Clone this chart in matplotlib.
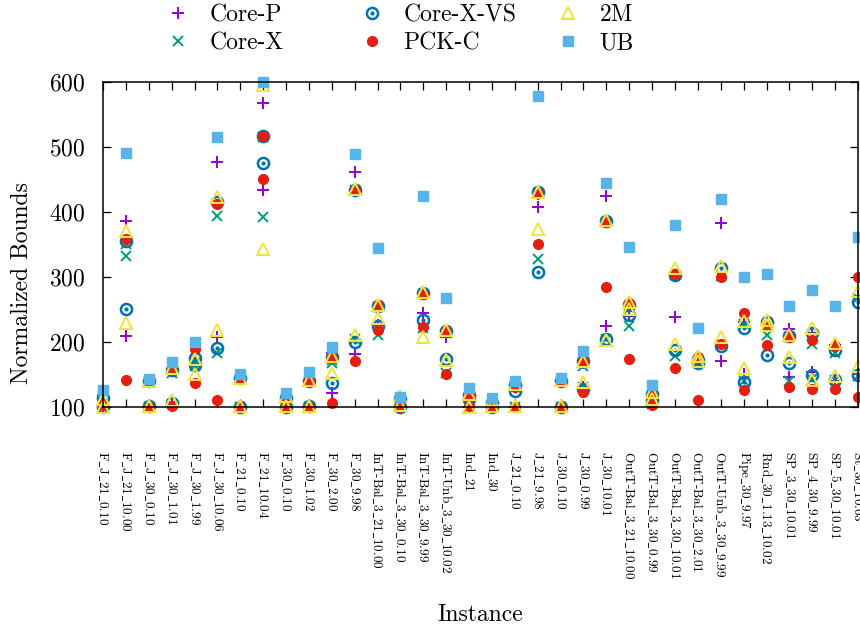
import matplotlib
matplotlib.use("Agg")
import matplotlib.pyplot as plt
from matplotlib.legend_handler import HandlerTuple
import numpy as np

plt.rcParams["font.family"] = ["cmr10", "DejaVu Serif"]
plt.rcParams["mathtext.fontset"] = "cm"
plt.rcParams["axes.formatter.use_mathtext"] = True

# Instances on the x axis
instances = [
    "F_J_21_0.10", "F_J_21_10.00", "F_J_30_0.10", "F_J_30_1.01", "F_J_30_1.99",
    "F_J_30_10.06", "F_21_0.10", "F_21_10.04", "F_30_0.10", "F_30_1.02",
    "F_30_2.00", "F_30_9.98", "InT-Bal_3_21_10.00", "InT-Bal_3_30_0.10",
    "InT-Bal_3_30_9.99", "InT-Unb_3_30_10.02", "Ind_21", "Ind_30", "J_21_0.10",
    "J_21_9.98", "J_30_0.10", "J_30_0.99", "J_30_10.01", "OutT-Bal_3_21_10.00",
    "OutT-Bal_3_30_0.99", "OutT-Bal_3_30_10.01", "OutT-Bal_3_30_2.01",
    "OutT-Unb_3_30_9.99", "Pipe_30_9.97", "Rnd_30_1.13_10.02", "SP_3_30_10.01",
    "SP_4_30_9.99", "SP_5_30_10.01", "St_30_10.03",
]

# Two values per instance for every method
core_p = [(100, 118), (386, 209), (140, 100), (158, 105), (165, 162), (477, 207),
          (143, 100), (567, 434), (115, 100), (140, 100), (182, 121), (462, 181),
          (226, 255), (112, 100), (274, 245), (215, 207), (118, 100), (105, 100),
          (133, 100), (407, 428), (139, 100), (168, 130), (425, 225), (258, 240),
          (120, 102), (303, 238), (172, 170), (383, 170), (230, 151), (229, 224),
          (219, 146), (214, 154), (195, 139), (270, 150)]
core_x = [(100, 116), (350, 332), (139, 100), (152, 104), (168, 163), (394, 183),
          (143, 100), (516, 392), (112, 100), (139, 100), (172, 168), (433, 205),
          (210, 254), (110, 100), (274, 221), (214, 152), (113, 100), (104, 101),
          (130, 100), (328, 429), (139, 100), (162, 131), (385, 204), (255, 225),
          (118, 104), (303, 178), (170, 168), (301, 196), (228, 140), (210, 225),
          (207, 139), (196, 142), (183, 141), (268, 148)]
core_x_vs = [(113, 100), (355, 250), (140, 101), (157, 106), (175, 164), (416, 190),
             (144, 100), (517, 475), (114, 100), (140, 101), (176, 137), (434, 200),
             (224, 255), (112, 100), (275, 233), (216, 173), (118, 112), (106, 100),
             (133, 124), (307, 430), (140, 100), (170, 128), (386, 205), (257, 242),
             (120, 110), (303, 188), (172, 168), (313, 193), (222, 138), (230, 180),
             (209, 167), (213, 149), (188, 141), (262, 149)]
pck_c = [(102, 104), (359, 141), (140, 100), (159, 101), (189, 137), (412, 111),
         (142, 100), (517, 450), (114, 100), (141, 100), (177, 106), (433, 171),
         (218, 256), (110, 100), (274, 223), (216, 151), (118, 101), (103, 100),
         (131, 100), (350, 429), (140, 100), (170, 123), (385, 285), (260, 174),
         (118, 102), (304, 160), (176, 110), (300, 197), (244, 125), (195, 226),
         (208, 131), (202, 128), (194, 128), (300, 115)]
two_m = [(100, 112), (370, 229), (140, 101), (160, 110), (173, 151), (423, 218),
         (145, 101), (595, 343), (116, 101), (141, 101), (178, 152), (436, 210),
         (257, 236), (117, 103), (276, 208), (218, 172), (120, 100), (110, 101),
         (135, 101), (430, 373), (141, 101), (171, 138), (387, 202), (262, 251),
         (122, 112), (313, 196), (178, 170), (316, 208), (232, 159), (233, 226),
         (210, 176), (222, 141), (198, 147), (278, 163)]
ub = [125, 491, 142, 169, 200, 516, 151, 600, 121, 153, 192, 489, 345, 115, 425,
      268, 129, 114, 140, 579, 144, 186, 445, 346, 133, 380, 221, 420, 300, 305,
      255, 280, 255, 361]

fig = plt.figure(figsize=(8.6, 6.3), dpi=100)
ax = fig.add_axes([0.1198, 0.3544, 0.8779, 0.5154])

x = np.arange(len(instances))
xx = np.concatenate([x, x])


def both(pairs):
    arr = np.array(pairs)
    return np.concatenate([arr[:, 0], arr[:, 1]])


h_p, = ax.plot(xx, both(core_p), ls="none", marker="+", ms=9, mew=1.4,
               color="#9400D3", clip_on=False, label="Core-P")
h_x, = ax.plot(xx, both(core_x), ls="none", marker="x", ms=7, mew=1.4,
               color="#009E73", clip_on=False, label="Core-X")
h_vs1, = ax.plot(xx, both(core_x_vs), ls="none", marker="o", ms=8, mew=1.8,
                 mfc="none", color="#0072B2", clip_on=False)
h_vs2, = ax.plot(xx, both(core_x_vs), ls="none", marker="o", ms=2,
                 color="#0072B2", clip_on=False)
h_c, = ax.plot(xx, both(pck_c), ls="none", marker="o", ms=7,
               color="#E51E10", clip_on=False, label="PCK-C")
h_m, = ax.plot(xx, both(two_m), ls="none", marker="^", ms=9, mew=1.5,
               mfc="none", color="#F0E442", clip_on=False, label="2M")
h_u, = ax.plot(x, ub, ls="none", marker="s", ms=7,
               color="#56B4E9", clip_on=False, label="UB")

ax.set_xlim(0, len(instances) - 1)
ax.set_ylim(100, 600)
ax.set_yticks([100, 200, 300, 400, 500, 600])
ax.set_xticks(x)
# underscores are drawn through mathtext, cmr10 has no "_" glyph of its own
ax.set_xticklabels([s.replace("_", r"$\_$") for s in instances],
                   rotation=-90, fontsize=9.5)
ax.tick_params(axis="both", direction="in", length=6, width=0.9,
               top=True, right=True, colors="black")
ax.tick_params(axis="x", pad=32)
ax.tick_params(axis="y", labelsize=17, pad=13)
for s in ax.spines.values():
    s.set_linewidth(1.1)

fig.text(22 / 860, 1 - 283 / 630, "Normalized Bounds", rotation=90,
         ha="center", va="center", fontsize=17)
fig.text(480 / 860, 1 - 615 / 630, "Instance", ha="center", va="center",
         fontsize=17)

# legend in three columns at fixed positions
cols = [
    ([h_p, h_x], ["Core-P", "Core-X"], 178),
    ([(h_vs1, h_vs2), h_c], ["Core-X-VS", "PCK-C"], 372),
    ([h_m, h_u], ["2M", "UB"], 568),
]
for hs, labs, mx in cols:
    leg = fig.legend(hs, labs, loc="upper left",
                     bbox_to_anchor=((mx - 12) / 860, 1 - 4 / 630),
                     frameon=False, fontsize=17, handlelength=1.0,
                     handletextpad=0.85, borderpad=0, labelspacing=0.25,
                     borderaxespad=0,
                     handler_map={tuple: HandlerTuple(ndivide=1, pad=0)})

fig.savefig("out.png", dpi=100)
